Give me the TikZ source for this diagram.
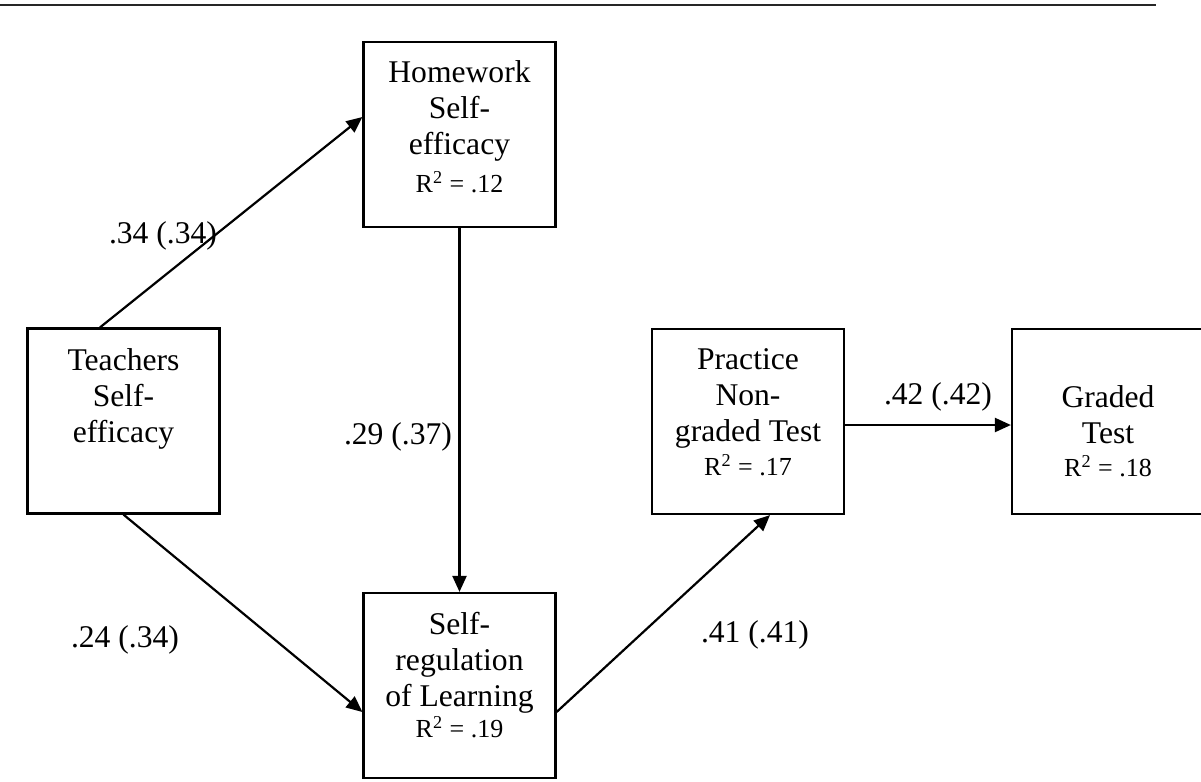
\documentclass[tikz,border=0pt]{standalone}
\usepackage{fontspec}
\setmainfont{Liberation Serif}
\usetikzlibrary{arrows.meta}
\begin{document}
\begin{tikzpicture}[x=0.5pt,y=-0.5pt,
  box/.style={draw=black, line width=1.1pt, minimum width=96pt, minimum height=92.5pt, inner sep=0pt},
  txt/.style={align=center, anchor=north, inner sep=0pt, font=\fontsize{15.8}{18}\selectfont},
  rsq/.style={anchor=base, inner sep=0pt, font=\fontsize{13}{15}\selectfont},
  coef/.style={inner sep=0pt, font=\fontsize{15.8}{18}\selectfont},
  arr/.style={line width=1.1pt, -{Triangle[length=8pt,width=7pt]}}]
\useasboundingbox (0,0) rectangle (1201,782);
\clip (0,0) rectangle (1201,782);
\draw[line width=1.2pt, black!85] (0,5) -- (1156,5);
% boxes
\node[box] (hw) at (459.5,134.5) {};
\node[box] (ts) at (123.5,421) {};
\node[box] (sr) at (459.5,685.5) {};
\node[box] (pt) at (748,421.5) {};
\node[box] (gt) at (1108,421.5) {};
% texts
\node[txt] (hwT) at (459.5,60.6) {Homework\\Self-\\efficacy};
\node[rsq] (hwR) at (459.5,192) {R\textsuperscript{2} = .12};
\node[txt] (tsT) at (123.5,348.6) {Teachers\\Self-\\efficacy};
\node[txt] (srT) at (459.5,611.6) {Self-\\regulation\\of Learning};
\node[rsq] (srR) at (459.5,737) {R\textsuperscript{2} = .19};
\node[txt] (ptT) at (748,348.6) {Practice\\Non-\\graded Test};
\node[rsq] (ptR) at (748,475) {R\textsuperscript{2} = .17};
\node[txt] (gtT) at (1108,385.6) {Graded\\Test};
\node[rsq] (gtR) at (1108,476) {R\textsuperscript{2} = .18};
% arrows
\draw[arr] ([xshift=-11.75pt]ts.north) -- ([yshift=8.75pt]hw.west);
\draw[arr] (ts.south) -- ([yshift=-13.25pt]sr.west);
\draw[arr] (hw.south) -- (sr.north);
\draw[arr] ([yshift=-13.25pt]sr.east) -- ([xshift=11pt]pt.south);
\draw[arr] ([yshift=-1.75pt]pt.east) -- ([yshift=-1.75pt]gt.west);
% coefficients
\node[coef] (c1) at (163,236) {.34 (.34)};
\node[coef] (c2) at (398,437) {.29 (.37)};
\node[coef] (c3) at (125,640) {.24 (.34)};
\node[coef] (c4) at (755,635) {.41 (.41)};
\node[coef] (c5) at (938,397) {.42 (.42)};
\end{tikzpicture}
\end{document}
